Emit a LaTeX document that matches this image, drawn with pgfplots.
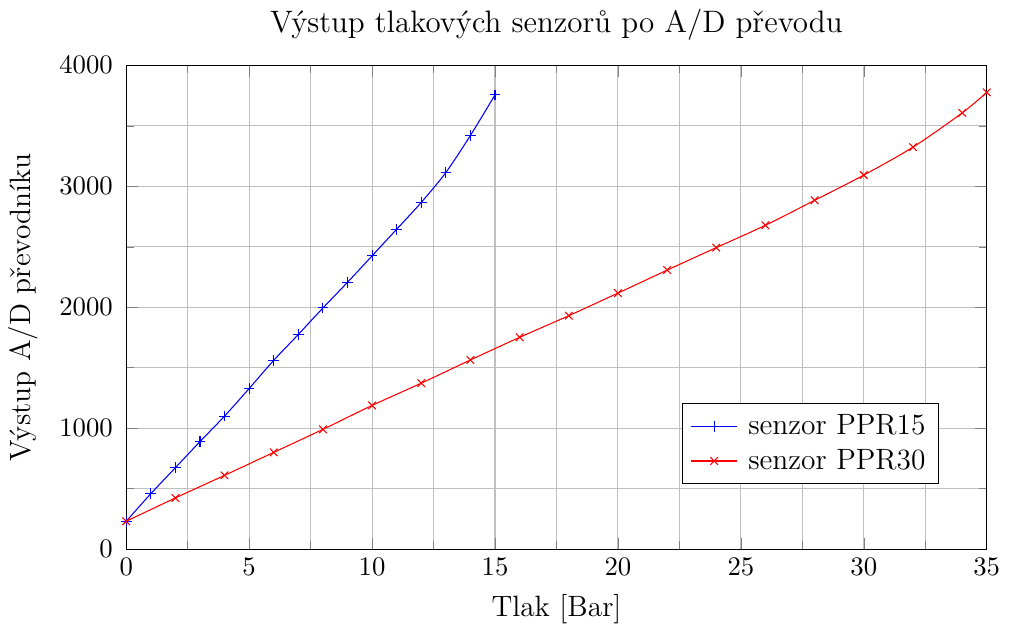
\documentclass[border=0pt]{standalone}
\usepackage{pgfplots}
\pgfplotsset{compat=1.18}
\begin{document}
\begin{tikzpicture}
\begin{axis}[
  scale only axis,
  width=322pt, height=181pt,
  xmin=0, xmax=35, ymin=0, ymax=4000,
  xtick={0,5,...,35}, ytick={0,1000,...,4000},
  minor tick num=1,
  grid=both,
  title={Výstup tlakových senzorů po A/D převodu},
  title style={font=\fontsize{11.6}{14}\selectfont},
  xlabel={Tlak [Bar]},
  ylabel={Výstup A/D převodníku},
  label style={font=\fontsize{11}{13}\selectfont},
  ylabel style={yshift=1pt},
  yticklabel style={xshift=-1.5pt},
  scaled y ticks=false,
  y tick label style={/pgf/number format/1000 sep={}},
  legend style={at={(0.945,0.134)}, anchor=south east, font=\fontsize{11}{13.5}\selectfont, legend cell align=left},
]
\addplot[blue, mark=+, smooth] coordinates {
(0,230) (1,458) (2,673) (3,889) (4,1100) (5,1328) (6,1561) (7,1775) (8,1994)
(9,2206) (10,2425) (11,2645) (12,2867) (13,3114) (14,3421) (15,3756)};
\addlegendentry{\hspace{2pt}senzor PPR15}
\addplot[red, mark=x, smooth] coordinates {
(0,230) (2,423) (4,610) (6,800) (8,990) (10,1188) (12,1372) (14,1564) (16,1751)
(18,1930) (20,2117) (22,2307) (24,2493) (26,2678) (28,2884) (30,3093) (32,3324)
(34,3607) (35,3777)};
\addlegendentry{\hspace{2pt}senzor PPR30}
\end{axis}
\end{tikzpicture}
\end{document}
